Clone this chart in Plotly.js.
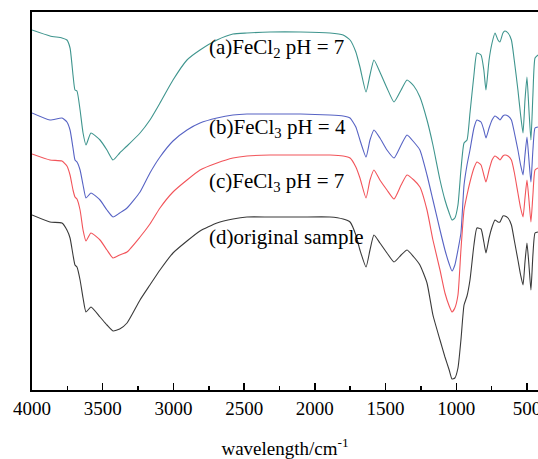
<!DOCTYPE html>
<html>
<head>
<meta charset="utf-8">
<script src="https://cdn.plot.ly/plotly-3.0.1.min.js"></script>
<style>
html,body{margin:0;padding:0;background:#fff;overflow:hidden;}
#chart{width:538px;height:459px;}
</style>
</head>
<body>
<div id="chart"></div>
<script>
// wavenumber grid (cm^-1)
const wavenumber = [4000,3873,3788,3753,3731,3710,3696,3682,3660,3639,
  3618,3583,3519,3470,3427,3380,3328,3236,3166,3095,
  3003,2904,2812,2692,2579,2480,2317,2100,1893,1800,
  1751,1710,1681,1638,1610,1582,1540,1490,1440,1390,
  1348,1300,1257,1207,1165,1115,1080,1050,1030,1010,
  988,967,945,924,903,875,854,825,805,790,
  768,747,726,705,691,670,656,634,610,590,
  564,545,528,514,500,486,472,458,443,422];

// transmittance (arbitrary units, curves stacked)
const seriesA = [360,354,352,350,342,315,300,299,280,257,
  245,257,250,240,230,237,244,257,270,287,
  310,330,340,350,356,357,358,358,357,355,
  350,338,323,298,315,330,318,302,288,300,
  310,304,293,270,245,210,190,177,170,172,
  185,220,247,250,277,315,337,335,320,300,
  330,347,357,350,348,357,359,357,350,330,
  300,275,257,290,313,280,250,295,332,335];
const seriesB = [277,270,272,268,260,242,230,228,220,205,
  192,197,190,180,173,177,182,198,217,233,
  249,260,267,272,275,276,276,276,275,274,
  272,263,250,233,250,260,252,240,232,245,
  255,248,240,215,190,160,140,126,119,125,
  140,157,205,225,240,262,270,268,260,252,
  262,270,274,272,270,274,275,274,270,258,
  240,225,215,235,253,230,208,240,262,263];
const seriesC = [236,230,229,224,215,200,193,191,180,160,
  149,157,150,140,132,135,138,153,166,182,
  198,210,220,227,232,234,235,235,235,234,
  232,223,212,192,210,220,210,200,191,205,
  215,210,203,180,150,120,97,84,78,82,
  95,140,180,195,208,222,228,225,215,208,
  220,230,234,232,230,234,235,234,230,218,
  197,182,173,192,210,190,168,195,220,222];
const seriesD = [175,168,167,160,152,135,125,123,110,92,
  78,83,73,65,59,61,67,90,105,120,
  137,149,159,167,171,173,173,173,173,171,
  168,155,140,123,140,155,147,137,128,135,
  140,133,125,107,75,50,33,20,11,12,
  22,50,85,94,110,145,162,161,148,137,
  152,163,170,168,168,174,174,172,165,150,
  130,115,105,128,147,125,100,135,157,158];

const seriesNames = ['(a)FeCl<sub>2</sub> pH = 7','(b)FeCl<sub>3</sub> pH = 4','(c)FeCl<sub>3</sub> pH = 7','(d)original sample'];
const labelY = [342,262,208,153];
const labelX = 2760;
const colors = ['#3f958e','#5763c4','#f2545a','#3a3a3a'];
const tickVals = [4000,3500,3000,2500,2000,1500,1000,500];
const tickText = ['4000','3500','3000','2500','2000','1500','1000','500'];

const allSeries = [seriesA, seriesB, seriesC, seriesD];
const font = 'Liberation Serif, Times New Roman, serif';

const traces = allSeries.map((s, i) => ({
  x: wavenumber, y: s, type: 'scatter', mode: 'lines',
  name: seriesNames[i],
  line: {color: colors[i], width: 1.1, shape: 'spline', smoothing: 0.5},
  hoverinfo: 'skip'
}));

const annotations = seriesNames.map((t, i) => ({
  x: labelX, y: labelY[i], xref: 'x', yref: 'y', text: t,
  showarrow: false, xanchor: 'left', yanchor: 'middle',
  font: {family: font, size: 21, color: '#000'}
}));

const layout = {
  width: 538, height: 459,
  margin: {l: 32, r: 0, t: 12, b: 69},
  paper_bgcolor: '#fff', plot_bgcolor: '#fff',
  showlegend: false,
  font: {family: font, size: 19, color: '#000'},
  xaxis: {
    range: [4000, 422], autorange: false,
    tickvals: tickVals, ticktext: tickText,
    ticks: 'inside', ticklen: 7, tickwidth: 1.5, tickcolor: '#000',
    minor: {dtick: 250, tick0: 0, ticks: 'inside', ticklen: 4, tickwidth: 1.5, tickcolor: '#000'},
    showline: true, linecolor: '#000', linewidth: 2, mirror: true,
    showgrid: false, zeroline: false,
    tickfont: {family: font, size: 19, color: '#000'},
    ticklabelstandoff: 0,
    ticklabeloverflow: 'allow',
    automargin: false,
    title: {text: 'wavelength/cm<sup>-1</sup>', font: {family: font, size: 19, color: '#000'}, standoff: 26}
  },
  yaxis: {
    range: [0, 378], autorange: false,
    showticklabels: false, ticks: '',
    showline: true, linecolor: '#000', linewidth: 2,
    showgrid: false, zeroline: false, automargin: false
  },
  annotations: annotations
};

Plotly.newPlot('chart', traces, layout, {staticPlot: true, displayModeBar: false});
</script>
</body>
</html>
